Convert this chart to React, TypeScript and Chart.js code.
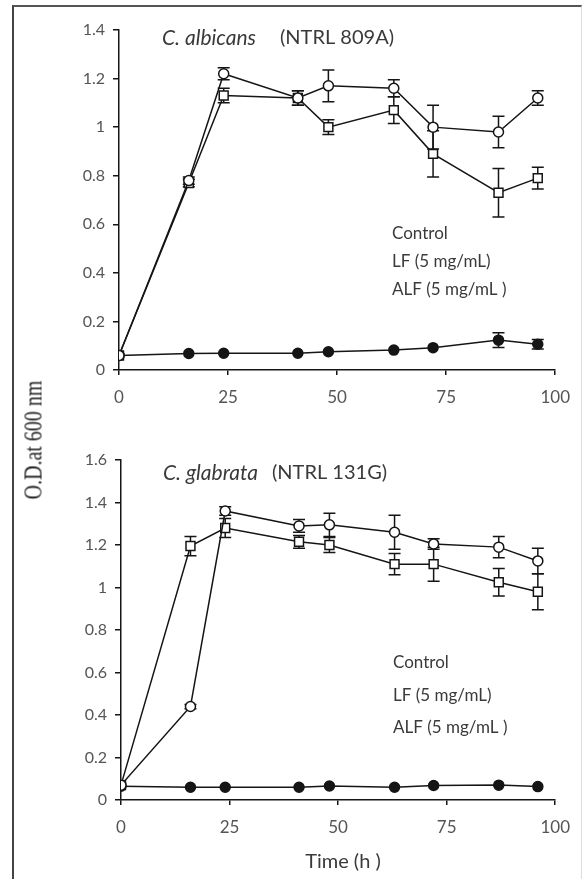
import React, { useEffect, useRef } from "react";
import { Chart, registerables } from "chart.js";

Chart.register(...registerables);

// ---------- data ----------
const hours = [0, 16, 24, 41, 48, 63, 72, 87, 96];

// C. albicans (NTRL 809A)
const albControl = [0.06, 0.78, 1.22, 1.12, 1.17, 1.16, 1.0, 0.98, 1.12];
const albControlErr = [0, 0.015, 0.025, 0.03, 0.065, 0.035, 0.09, 0.065, 0.03];
const albLF = [0.06, 0.77, 1.13, 1.12, 1.0, 1.07, 0.89, 0.73, 0.79];
const albLFErr = [0, 0.015, 0.03, 0.03, 0.03, 0.055, 0.095, 0.1, 0.045];
const albALF = [0.06, 0.068, 0.069, 0.069, 0.075, 0.082, 0.092, 0.123, 0.106];
const albALFErr = [0, 0, 0, 0, 0, 0, 0, 0.03, 0.02];

// C. glabrata (NTRL 131G)
const glaControl = [0.07, 0.44, 1.36, 1.29, 1.295, 1.26, 1.205, 1.19, 1.125];
const glaControlErr = [0, 0.01, 0.02, 0.03, 0.055, 0.08, 0.025, 0.05, 0.06];
const glaLF = [0.07, 1.195, 1.28, 1.215, 1.2, 1.11, 1.11, 1.025, 0.98];
const glaLFErr = [0, 0.045, 0.045, 0.03, 0.035, 0.05, 0.08, 0.065, 0.085];
const glaALF = [0.065, 0.06, 0.06, 0.06, 0.066, 0.06, 0.068, 0.07, 0.063];
const glaALFErr = [0, 0, 0, 0, 0, 0, 0, 0, 0];

const xTicks = [0, 25, 50, 75, 100];
const yTicksAlb = [0, 0.2, 0.4, 0.6, 0.8, 1, 1.2, 1.4];
const yTicksGla = [0, 0.2, 0.4, 0.6, 0.8, 1, 1.2, 1.4, 1.6];

const legendLabels = ["Control", "LF (5 mg/mL)", "ALF (5 mg/mL )"];
const yAxisTitle = "O.D.at 600 nm";
const xAxisTitle = "Time (h )";

// ---------- styles ----------
const INK = "#151515";
const TICK_TEXT = "#555";
const TEXT = "#3a3a3a";

const errorBarPlugin = {
  id: "errorBars",
  beforeDatasetsDraw(chart: any) {
    const ctx = chart.ctx;
    const xs = chart.scales.x;
    const ys = chart.scales.y;
    ctx.save();
    ctx.strokeStyle = INK;
    ctx.lineWidth = 1.5;
    chart.data.datasets.forEach((ds: any) => {
      const errs = ds.errors as number[] | undefined;
      if (!errs) return;
      ds.data.forEach((p: any, i: number) => {
        const e = errs[i];
        if (!e) return;
        const px = xs.getPixelForValue(p.x);
        const yt = ys.getPixelForValue(p.y + e);
        const yb = ys.getPixelForValue(p.y - e);
        ctx.beginPath();
        ctx.moveTo(px, yt);
        ctx.lineTo(px, yb);
        ctx.moveTo(px - 6, yt);
        ctx.lineTo(px + 6, yt);
        ctx.moveTo(px - 6, yb);
        ctx.lineTo(px + 6, yb);
        ctx.stroke();
      });
    });
    ctx.restore();
  },
};

function makeTextPlugin(opts: {
  italic: string;
  normal: string;
  titleX: number;
  normalX: number;
  titleY: number;
  legendX: number;
  legendY: number[];
  xTitle?: { x: number; y: number };
}) {
  return {
    id: "texts",
    afterDraw(chart: any) {
      const ctx = chart.ctx;
      ctx.save();
      ctx.fillStyle = TEXT;
      ctx.textBaseline = "middle";
      ctx.textAlign = "left";
      ctx.font = "italic 21px Lato";
      ctx.fillText(opts.italic, opts.titleX, opts.titleY);
      ctx.font = "20px Lato";
      ctx.fillText(opts.normal, opts.normalX, opts.titleY);
      ctx.font = "17px Lato";
      legendLabels.forEach((t, i) => ctx.fillText(t, opts.legendX, opts.legendY[i]));
      if (opts.xTitle) {
        ctx.font = "20px Lato";
        ctx.textAlign = "center";
        ctx.fillText(xAxisTitle, opts.xTitle.x, opts.xTitle.y);
      }
      ctx.restore();
    },
  };
}

function datasets(ctrl: number[], ctrlErr: number[], lf: number[], lfErr: number[], alf: number[], alfErr: number[]) {
  const pts = (arr: number[]) => arr.map((v, i) => ({ x: hours[i], y: v }));
  const common = {
    borderColor: INK,
    borderWidth: 1.5,
    pointBorderColor: INK,
    pointBorderWidth: 1.5,
    tension: 0,
    fill: false,
  };
  return [
    { ...common, label: legendLabels[0], data: pts(ctrl), errors: ctrlErr, pointStyle: "circle", pointRadius: 5, pointBackgroundColor: "#fff" },
    { ...common, label: legendLabels[1], data: pts(lf), errors: lfErr, pointStyle: "rect", pointRadius: 6.3, pointBackgroundColor: "#fff" },
    { ...common, label: legendLabels[2], data: pts(alf), errors: alfErr, pointStyle: "circle", pointRadius: 5, pointBackgroundColor: INK },
  ];
}

function makeConfig(ds: any[], yMax: number, yTicks: number[], yAxisWidth: number, xAxisHeight: number, padRight: number, textPlugin: any) {
  return {
    type: "line" as const,
    data: { datasets: ds },
    options: {
      animation: false,
      responsive: false,
      maintainAspectRatio: false,
      layout: { padding: { left: 0, right: padRight, top: 30, bottom: 0 } },
      plugins: {
        legend: { display: false },
        tooltip: { enabled: false },
        title: { display: false },
      },
      scales: {
        x: {
          type: "linear",
          min: 0,
          max: 100,
          afterBuildTicks: (s: any) => {
            s.ticks = xTicks.map((v) => ({ value: v }));
          },
          afterFit: (s: any) => {
            s.height = xAxisHeight;
          },
          ticks: {
            color: TICK_TEXT,
            font: { family: "Lato", size: 17 },
            padding: 12,
            maxRotation: 0,
            callback: (v: any) => String(v),
          },
          grid: { drawOnChartArea: false, drawTicks: true, tickLength: 5, color: INK, lineWidth: 1.5 },
          border: { display: true, color: INK, width: 1.5 },
        },
        y: {
          type: "linear",
          min: 0,
          max: yMax,
          afterBuildTicks: (s: any) => {
            s.ticks = yTicks.map((v) => ({ value: v }));
          },
          afterFit: (s: any) => {
            s.width = yAxisWidth;
          },
          ticks: {
            color: TICK_TEXT,
            font: { family: "Lato", size: 16 },
            padding: 8,
            callback: (v: any) => String(Math.round(v * 10) / 10),
          },
          grid: { drawOnChartArea: false, drawTicks: true, tickLength: 6, color: INK, lineWidth: 1.5 },
          border: { display: true, color: INK, width: 1.5 },
        },
      },
    },
    plugins: [errorBarPlugin, textPlugin],
  };
}

export default function App() {
  const topRef = useRef<HTMLCanvasElement | null>(null);
  const botRef = useRef<HTMLCanvasElement | null>(null);

  useEffect(() => {
    const c1 = new Chart(
      topRef.current as HTMLCanvasElement,
      makeConfig(
        datasets(albControl, albControlErr, albLF, albLFErr, albALF, albALFErr),
        1.4,
        yTicksAlb,
        119,
        60,
        26,
        makeTextPlugin({
          italic: "C. albicans",
          normal: "(NTRL 809A)",
          titleX: 162,
          normalX: 280,
          titleY: 38,
          legendX: 392,
          legendY: [234, 262, 290],
        })
      ) as any
    );
    const c2 = new Chart(
      botRef.current as HTMLCanvasElement,
      makeConfig(
        datasets(glaControl, glaControlErr, glaLF, glaLFErr, glaALF, glaALFErr),
        1.6,
        yTicksGla,
        121,
        79,
        24,
        makeTextPlugin({
          italic: "C. glabrata",
          normal: "(NTRL 131G)",
          titleX: 163,
          normalX: 272,
          titleY: 43,
          legendX: 393,
          legendY: [233, 266, 298],
          xTitle: { x: 343, y: 432 },
        })
      ) as any
    );
    return () => {
      c1.destroy();
      c2.destroy();
    };
  }, []);

  return (
    <div style={{ position: "fixed", left: 0, top: 0, width: 582, height: 879, background: "#fff", overflow: "hidden" }}>
      <div
        style={{
          position: "absolute",
          left: 12,
          top: 5,
          width: 567,
          height: 880,
          borderLeft: "2px solid #444",
          borderTop: "2px solid #555",
          borderRight: "1px solid #ddd",
        }}
      />
      <canvas ref={topRef} width={582} height={430} style={{ position: "absolute", left: 0, top: 0, width: 582, height: 430 }} />
      <canvas ref={botRef} width={582} height={449} style={{ position: "absolute", left: 0, top: 430, width: 582, height: 449 }} />
      <div
        style={{
          position: "absolute",
          left: 33,
          top: 440,
          transform: "translate(-50%, -50%) rotate(-90deg) scaleX(0.8)",
          fontFamily: "'Liberation Serif', serif",
          fontSize: 25,
          color: "#222",
          whiteSpace: "nowrap",
          lineHeight: 1,
        }}
      >
        {yAxisTitle}
      </div>
    </div>
  );
}
